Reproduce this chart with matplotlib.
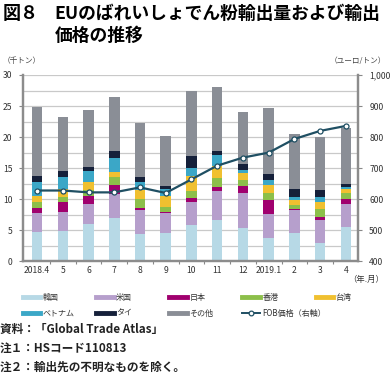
import numpy as np
import matplotlib.pyplot as plt
from matplotlib.lines import Line2D

plt.rcParams['font.family'] = ['Noto Sans CJK JP', 'DejaVu Sans']

# data (thousand tonnes, stacked by destination)
months = ["2018.4", "5", "6", "7", "8", "9", "10", "11", "12",
          "2019.1", "2", "3", "4"]
korea = [4.7, 4.9, 6.0, 6.9, 4.4, 4.6, 5.8, 6.6, 5.4, 3.8, 4.5, 3.0, 5.5]
usa = [3.1, 3.1, 3.3, 4.0, 3.9, 3.1, 3.7, 4.8, 5.6, 3.8, 3.7, 3.6, 3.7]
japan = [0.8, 1.5, 1.2, 1.4, 0.3, 0.2, 0.7, 0.6, 1.1, 2.3, 0.3, 0.5, 0.9]
hongkong = [0.9, 0.9, 1.0, 1.2, 1.4, 0.8, 1.1, 1.4, 1.0, 1.1, 0.6, 1.3, 0.9]
taiwan = [1.0, 1.2, 1.3, 0.8, 1.5, 1.8, 2.4, 2.0, 1.1, 1.3, 0.7, 1.1, 0.6]
vietnam = [2.2, 2.0, 1.7, 2.3, 1.2, 1.1, 1.3, 1.7, 0.5, 0.8, 0.6, 0.9, 0.4]
thai = [1.1, 1.0, 0.7, 1.2, 0.9, 0.6, 1.9, 0.7, 1.0, 1.0, 1.3, 1.1, 0.4]
others = [11.1, 8.6, 9.1, 8.6, 8.6, 8.0, 10.5, 10.2, 8.4, 10.6, 8.8, 8.5, 9.1]
# FOB price (euro / tonne), right axis
fob = [628, 628, 622, 622, 638, 620, 664, 708, 734, 750, 794, 820, 836]

series = [korea, usa, japan, hongkong, taiwan, vietnam, thai, others]
names = ["韓国", "米国", "日本", "香港", "台湾", "ベトナム", "タイ", "その他"]
colors = ["#b7d9e6", "#b69fcc", "#a0006e", "#8cbf4a", "#f0c030",
          "#3ba7c7", "#15203a", "#8a8e96"]
line_color = "#1f4f63"

fig = plt.figure(figsize=(3.9, 3.74), dpi=100)
ax = fig.add_axes([0.06, 0.3013, 0.858, 0.4982])

x = np.arange(len(months))
bottom = np.zeros(len(months))
for vals, c in zip(series, colors):
    ax.bar(x, vals, width=0.41, bottom=bottom, color=c, linewidth=0, zorder=2)
    bottom += np.array(vals)

ax.set_xlim(-0.53, 12.47)
ax.set_ylim(0, 30)
ax.set_yticks(np.arange(0, 31, 5))
ax.set_yticks(np.arange(0, 31, 2.5), minor=True)
ax.grid(axis='y', which='both', color='#c9c9c9', linewidth=0.9, zorder=0)
ax.set_axisbelow(True)
ax.set_xticks(x)
ax.set_xticklabels(months)
ax.set_xticks(x[:-1] + 0.5, minor=True)
ax.tick_params(axis='x', which='major', length=0, labelsize=6.2,
               colors='#333333', pad=3.5)
ax.tick_params(axis='x', which='minor', length=2.5, width=0.8,
               color='#888888')
ax.tick_params(axis='y', which='major', length=3, width=0.8,
               color='#888888', labelsize=6.2, labelcolor='#333333', pad=5)
ax.tick_params(axis='y', which='minor', length=0)
for s in ['left', 'right', 'bottom']:
    ax.spines[s].set_color('#8c8c8c')
    ax.spines[s].set_linewidth(1.6)
ax.spines['top'].set_visible(False)

ax2 = ax.twinx()
ax2.plot(x, fob, color=line_color, linewidth=1.6, marker='o',
         markersize=3.6, markerfacecolor='white', markeredgecolor=line_color,
         markeredgewidth=0.9, zorder=5)
ax2.set_ylim(400, 1000)
ax2.set_yticks(np.arange(400, 1001, 100))
ax2.set_yticklabels([f"{v:,}" for v in range(400, 1001, 100)])
ax2.tick_params(axis='y', length=3, width=0.8, color='#888888',
                labelsize=6.2, labelcolor='#333333', pad=5)
for s in ['left', 'right', 'bottom']:
    ax2.spines[s].set_color('#8c8c8c')
    ax2.spines[s].set_linewidth(1.6)
ax2.spines['top'].set_visible(False)

# titles and units
fig.text(0.008, 0.963, "図８", fontsize=13, fontweight='bold', va='center')
fig.text(0.14, 0.963, "EUのばれいしょでん粉輸出量および輸出",
         fontsize=12.8, fontweight='bold', va='center')
fig.text(0.14, 0.905, "価格の推移", fontsize=12.8, fontweight='bold',
         va='center')
fig.text(0.008, 0.836, "（千トン）", fontsize=5.5, color='#444444', va='center')
fig.text(0.99, 0.836, "（ユーロ/トン）", fontsize=5.5, color='#444444',
         va='center', ha='right')
fig.text(0.985, 0.252, "（年.月）", fontsize=6, color='#333333',
         va='center', ha='right')

# legend, five columns
handles = [Line2D([], [], color=c, linewidth=3.5) for c in colors]
handles.append(Line2D([], [], color=line_color, linewidth=1.4, marker='o',
                      markersize=3.4, markerfacecolor='white',
                      markeredgecolor=line_color, markeredgewidth=0.9))
labels = names + ["FOB価格（右軸）"]
for col in range(5):
    idx = [i for i in (col, col + 5) if i < len(handles)]
    fig.legend([handles[i] for i in idx], [labels[i] for i in idx],
               loc='upper left', bbox_to_anchor=(0.058 + col * 0.1878, 0.217),
               frameon=False, fontsize=5.8, handlelength=2.2,
               handletextpad=0.3, labelspacing=0.85, borderpad=0,
               borderaxespad=0, labelcolor='#333333')

# notes
fig.text(0.0, 0.118, "資料：「Global Trade Atlas」", fontsize=8.4,
         fontweight='bold', va='center', color='#222222')
fig.text(0.0, 0.069, "注１：HSコード110813", fontsize=8.4,
         fontweight='bold', va='center', color='#222222')
fig.text(0.0, 0.019, "注２：輸出先の不明なものを除く。", fontsize=8.4,
         fontweight='bold', va='center', color='#222222')

fig.savefig("out.png", dpi=100)
